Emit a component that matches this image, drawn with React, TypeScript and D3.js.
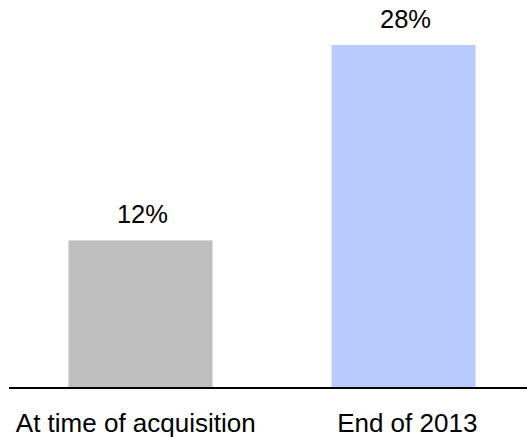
import React, { useEffect, useRef } from 'react';
import * as d3 from 'd3';

const CATEGORIES = ['At time of acquisition', 'End of 2013'];
const VALUES = [12, 28];
const VALUE_LABELS = ['12%', '28%'];
const COLORS = ['#bfbfbf', '#b9cbfc'];

export default function App() {
    const svgRef = useRef<SVGSVGElement>(null);

    useEffect(() => {
        if (!svgRef.current) return;
        const width = 527;
        const height = 437;
        const baseY = 387;
        const font = 'Arial, "Liberation Sans", sans-serif';

        const svg = d3.select(svgRef.current);
        svg.selectAll('*').remove();
        svg.attr('width', width).attr('height', height).attr('viewBox', `0 0 ${width} ${height}`);

        const x = d3.scaleBand<string>().domain(CATEGORIES).range([9, 535]).paddingInner(0.4525).paddingOuter(0.226);
        // category text sits on a slightly wider grid than the bars
        const xLabel = d3.scaleBand<string>().domain(CATEGORIES).range([0, 543]);
        const y = d3.scaleLinear().domain([0, 28]).range([baseY, 45]);

        const g = svg.append('g');

        // bars
        g.selectAll('.bar')
            .data(VALUES)
            .enter()
            .append('rect')
            .attr('class', 'bar')
            .attr('x', (d, i) => x(CATEGORIES[i])!)
            .attr('y', d => y(d))
            .attr('width', x.bandwidth())
            .attr('height', d => baseY - y(d))
            .attr('fill', (d, i) => COLORS[i]);

        // value labels
        g.selectAll('.val')
            .data(VALUES)
            .enter()
            .append('text')
            .attr('class', 'val')
            .attr('x', (d, i) => x(CATEGORIES[i])! + x.bandwidth() / 2 + 2)
            .attr('y', d => y(d) - 17)
            .attr('text-anchor', 'middle')
            .style('font-family', font)
            .style('font-size', '25.5px')
            .attr('fill', '#000')
            .text((d, i) => VALUE_LABELS[i]);

        // axis line
        g.append('line')
            .attr('x1', 9)
            .attr('x2', width)
            .attr('y1', baseY + 1)
            .attr('y2', baseY + 1)
            .attr('stroke', '#000')
            .attr('stroke-width', 2);

        // category labels
        g.selectAll('.cat')
            .data(CATEGORIES)
            .enter()
            .append('text')
            .attr('class', 'cat')
            .attr('x', d => xLabel(d)! + xLabel.bandwidth() / 2)
            .attr('y', 431.5)
            .attr('text-anchor', 'middle')
            .style('font-family', font)
            .style('font-size', '26px')
            .attr('fill', '#000')
            .text(d => d);
    }, []);

    return (
        <svg
            ref={svgRef}
            style={{ position: 'absolute', left: 0, top: 0, display: 'block', background: '#fff' }}
        />
    );
}
